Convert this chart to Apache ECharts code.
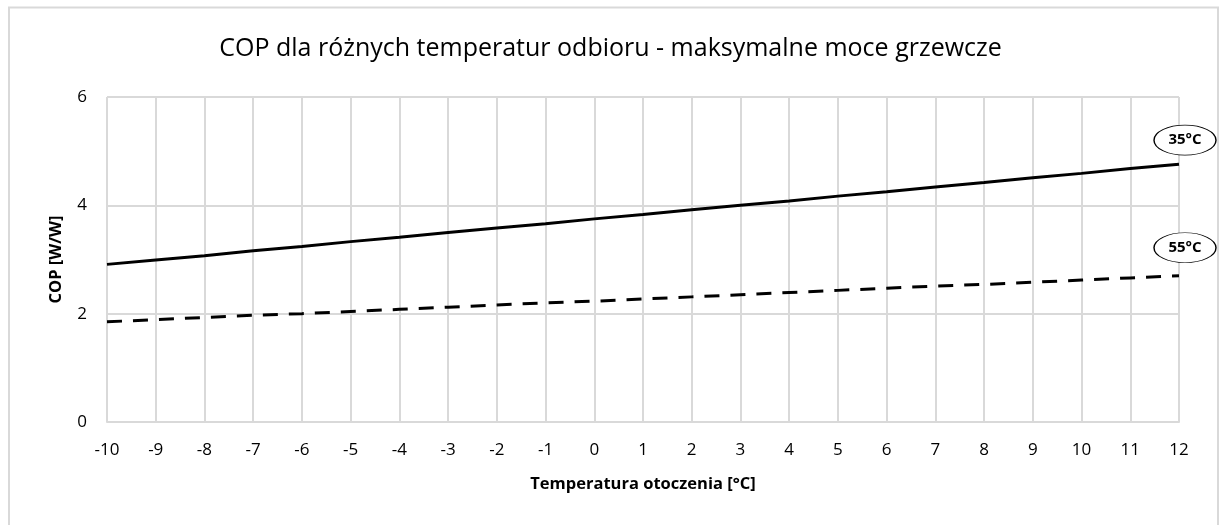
<!DOCTYPE html>
<html><head><meta charset="utf-8">
<script src="https://cdn.jsdelivr.net/npm/echarts@6/dist/echarts.min.js"></script>
<style>html,body{margin:0;padding:0;background:#fff}#c{width:1221px;height:525px}</style>
</head><body><div id="c"></div>
<script>
const categories = ['-10','-9','-8','-7','-6','-5','-4','-3','-2','-1','0','1','2','3','4','5','6','7','8','9','10','11','12'];
const cop35 = [2.91,2.99,3.07,3.16,3.24,3.33,3.41,3.50,3.58,3.66,3.75,3.83,3.92,4.00,4.08,4.17,4.25,4.34,4.42,4.51,4.59,4.68,4.76];
const cop55 = [1.85,1.89,1.93,1.97,2.00,2.04,2.08,2.12,2.16,2.20,2.23,2.27,2.31,2.35,2.39,2.43,2.47,2.51,2.54,2.58,2.62,2.66,2.70];
const yTicks = [0,2,4,6];
const titleText = 'COP dla różnych temperatur odbioru - maksymalne moce grzewcze';
const font = 'Open Sans';
const chart = echarts.init(document.getElementById('c'));
function tag(text, data, offset){
  return {
    symbol:'circle', symbolSize:[62,30], symbolOffset:offset, silent:true,
    itemStyle:{color:'#fff', borderColor:'#000', borderWidth:1},
    label:{show:true, formatter:text, color:'#000', fontFamily:font, fontWeight:'bold', fontSize:15},
    data:[{coord:['12', data[data.length-1]]}]
  };
}
chart.setOption({
  animation:false,
  textStyle:{fontFamily:font},
  graphic:[{type:'rect', shape:{x:9,y:7.5,width:1209,height:530}, style:{fill:'none', stroke:'#d9d9d9', lineWidth:2}, silent:true}],
  title:{text:titleText, left:'center', top:31, textStyle:{fontFamily:font, fontWeight:'normal', fontSize:25, color:'#000'}},
  grid:{left:107, right:42, top:97, bottom:103},
  xAxis:{type:'category', data:categories, boundaryGap:false,
    name:'Temperatura otoczenia [°C]', nameLocation:'middle', nameGap:54,
    nameTextStyle:{fontFamily:font, fontWeight:'bold', fontSize:16.5, color:'#000'},
    axisLine:{lineStyle:{color:'#d9d9d9', width:2}}, axisTick:{show:false},
    axisLabel:{color:'#000', fontSize:17, margin:20, interval:0},
    splitLine:{show:true, lineStyle:{color:'#d9d9d9', width:2}}},
  yAxis:{type:'value', min:yTicks[0], max:yTicks[yTicks.length-1], interval:2,
    name:'COP [W/W]', nameLocation:'middle', nameGap:42,
    nameTextStyle:{fontFamily:font, fontWeight:'bold', fontSize:16.5, color:'#000'},
    axisLine:{show:false}, axisTick:{show:false},
    axisLabel:{color:'#000', fontSize:17, margin:20},
    splitLine:{show:true, lineStyle:{color:'#d9d9d9', width:2}}},
  series:[
    {name:'35°C', type:'line', data:cop35, symbol:'none', lineStyle:{color:'#000', width:3}, markPoint:tag('35°C', cop35, [6,-24])},
    {name:'55°C', type:'line', data:cop55, symbol:'none', lineStyle:{color:'#000', width:3, type:[15,11]}, markPoint:tag('55°C', cop55, [6,-28])}
  ]
});
</script></body></html>
